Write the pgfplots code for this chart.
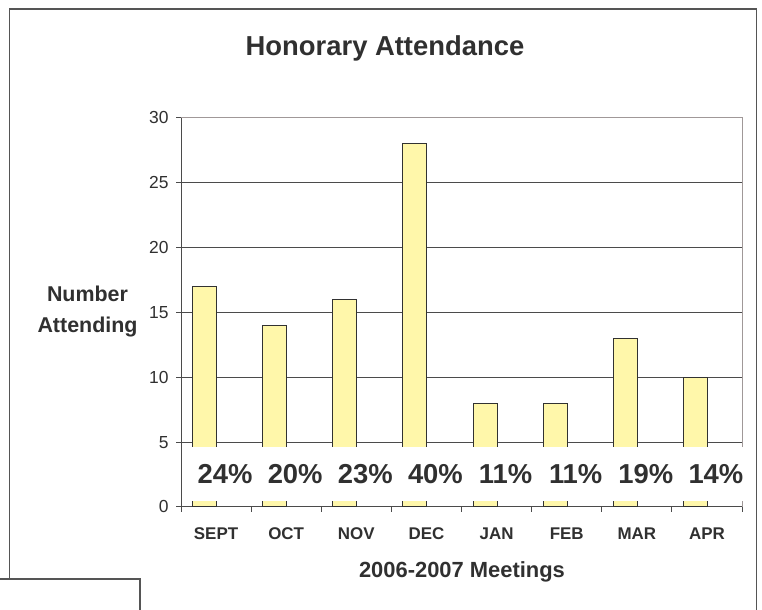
\documentclass[border=0pt]{standalone}
\usepackage{pgfplots}
\pgfplotsset{compat=1.18}
\usepackage{fontspec}
\setmainfont{Liberation Sans}
\definecolor{barfill}{RGB}{255,247,170}
\definecolor{txt}{RGB}{48,48,48}
\definecolor{edge}{RGB}{50,50,50}
\definecolor{gridc}{RGB}{75,75,75}
\definecolor{pborder}{RGB}{160,152,152}
\definecolor{framec}{RGB}{85,85,85}
\tikzset{pct/.style={anchor=base, text=txt, inner sep=0pt, font=\fontsize{27.5}{30}\selectfont\bfseries}}
\begin{document}
\begin{tikzpicture}[x=1bp,y=1bp]
\useasboundingbox (0,0) rectangle (762,610);
\fill[white] (0,0) rectangle (762,610);
\draw[framec, line width=1.3bp] (9.5,31) -- (9.5,601) -- (756.5,601) -- (756.5,-2);
\draw[framec, line width=1.3bp] (-2,31) -- (140,31) -- (140,-2);
\begin{axis}[
  at={(181bp,103bp)}, anchor=south west,
  scale only axis, width=561bp, height=389bp,
  xmin=0, xmax=8, ymin=0, ymax=30,
  clip=false,
  axis lines*=left,
  axis line style={draw=gridc, line width=1bp},
  tick align=outside,
  major tick length=5bp,
  tick style={draw=gridc, line width=1bp},
  xtick={0,1,2,3,4,5,6,7,8},
  xticklabels={SEPT,OCT,NOV,DEC,JAN,FEB,MAR,APR,{}},
  xticklabel style={font=\fontsize{17}{20}\selectfont\bfseries, text=txt, xshift=35.06bp, yshift=-12bp},
  ytick={0,5,10,15,20,25,30},
  yticklabel style={font=\fontsize{17.5}{20}\selectfont, text=txt, xshift=-4bp},
  /pgf/number format/assume math mode=true,
  ymajorgrids,
  grid style={draw=gridc, line width=1bp},
]
\addplot[ybar, bar width=24bp, bar shift=-11.5bp, fill=barfill, draw=edge, line width=1bp]
  coordinates {(0.5,17) (1.5,14) (2.5,16) (3.5,28) (4.5,8) (5.5,8) (6.5,13) (7.5,10)};
\draw[pborder, line width=1bp] (rel axis cs:0,1) -- (rel axis cs:1,1) -- (rel axis cs:1,0);
\fill[white] (axis cs:0.015,0.46) rectangle (axis cs:8.02,4.63);
\node[pct] at (axis cs:0.628,1.85) {24\%};
\node[pct] at (axis cs:1.628,1.85) {20\%};
\node[pct] at (axis cs:2.628,1.85) {23\%};
\node[pct] at (axis cs:3.628,1.85) {40\%};
\node[pct] at (axis cs:4.628,1.85) {11\%};
\node[pct] at (axis cs:5.628,1.85) {11\%};
\node[pct] at (axis cs:6.628,1.85) {19\%};
\node[pct] at (axis cs:7.628,1.85) {14\%};
\end{axis}
\node[anchor=base, text=txt, inner sep=0pt, font=\fontsize{27.5}{30}\selectfont\bfseries] at (385,554) {Honorary Attendance};
\node[anchor=base, text=txt, inner sep=0pt, font=\fontsize{21.5}{24}\selectfont\bfseries] at (87.5,308) {Number};
\node[anchor=base, text=txt, inner sep=0pt, font=\fontsize{21.5}{24}\selectfont\bfseries] at (87.5,277) {Attending};
\node[anchor=base, text=txt, inner sep=0pt, font=\fontsize{22}{24}\selectfont\bfseries] at (462,32) {2006-2007 Meetings};
\end{tikzpicture}
\end{document}
